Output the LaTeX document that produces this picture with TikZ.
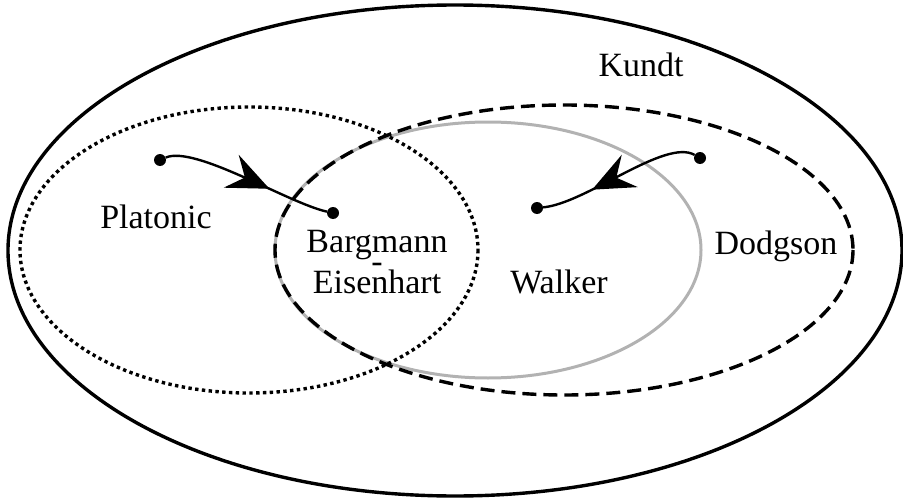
\documentclass[tikz,border=0pt]{standalone}
\usepackage{fontspec}
\setmainfont{Liberation Serif}
\usetikzlibrary{arrows.meta,decorations.markings}

\begin{document}
\begin{tikzpicture}[x=1pt,y=-1pt,
        every node/.style={font=\fontsize{34}{40}\selectfont},
        point node/.style={circle,fill,inner sep=0pt,minimum size=12pt},
        set line/.style={line width=3.4pt},
        flow arrow/.style={line width=2.4pt,postaction={decorate},
          decoration={markings,mark=at position #1 with
            {\arrow{Stealth[length=42pt,width=36pt,inset=15pt]}}}}]
        \useasboundingbox (0,0) rectangle (903,503);

        % classes
        \draw[gray!60,line width=3pt] (488,250) ellipse [x radius=213,y radius=128];
        \draw[set line,dash pattern=on 14pt off 7pt] (564,250) ellipse [x radius=289,y radius=145];
        \draw[set line,dash pattern=on 3.4pt off 3.4pt] (249,250) ellipse [x radius=229,y radius=143];
        \draw[set line] (455,250.5) ellipse [x radius=447,y radius=245.5];

        \node[anchor=base] (kundt) at (641,77) {Kundt};
        \node[anchor=base] (platonic) at (156,228) {Platonic};
        \node[anchor=base,align=center,
          font={\fontsize{34}{20.5}\selectfont\lineskiplimit=-50pt}] (be) at (377,293) {Bargmann\\-\\Eisenhart};
        \node[anchor=base] (walker) at (559,293) {Walker};
        \node[anchor=base] (dodgson) at (776,254) {Dodgson};

        \node[point node] (p1) at (160,160) {};
        \node[point node] (b1) at (333,213) {};
        \node[point node] (d1) at (700,158) {};
        \node[point node] (w1) at (537,208) {};

        \draw[flow arrow=0.64] (p1) .. controls +(35,-15) and +(-45,-10) .. (b1);
        \draw[flow arrow=0.68] (d1) .. controls +(-35,-20) and +(50,-5) .. (w1);
    \end{tikzpicture}
\end{document}
